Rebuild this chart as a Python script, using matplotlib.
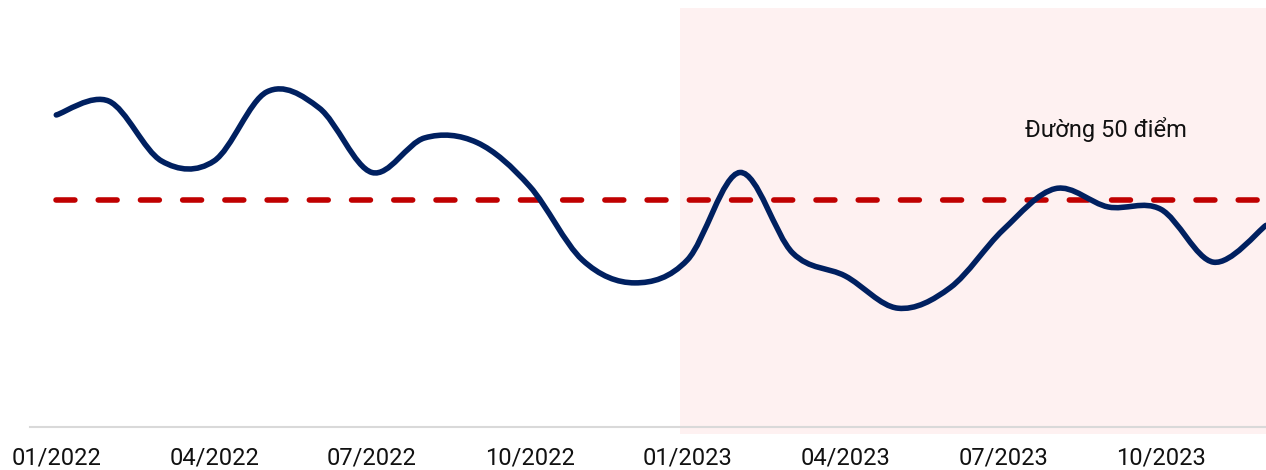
import matplotlib.pyplot as plt
from matplotlib.path import Path
from matplotlib.patches import PathPatch
import numpy as np

plt.rcParams['font.family'] = ['Roboto', 'DejaVu Sans']

# Monthly index, 01/2022 - 12/2023
months = ['01/2022', '02/2022', '03/2022', '04/2022', '05/2022', '06/2022',
          '07/2022', '08/2022', '09/2022', '10/2022', '11/2022', '12/2022',
          '01/2023', '02/2023', '03/2023', '04/2023', '05/2023', '06/2023',
          '07/2023', '08/2023', '09/2023', '10/2023', '11/2023', '12/2023']
values = [53.7, 54.3, 51.7, 51.7, 54.7, 54.0, 51.2, 52.7, 52.5, 50.6, 47.4, 46.4,
          47.4, 51.2, 47.7, 46.7, 45.3, 46.2, 48.7, 50.5, 49.7, 49.6, 47.3, 48.9]
threshold = 50
threshold_label = 'Đường 50 điểm'
tick_labels = months[::3]


def smooth_path(x, y):
    # Catmull-Rom segments converted to cubic Bezier curves
    px = np.concatenate([[x[0]], x, [x[-1]]])
    py = np.concatenate([[y[0]], y, [y[-1]]])
    verts = [(x[0], y[0])]
    codes = [Path.MOVETO]
    for i in range(1, len(px) - 2):
        c1 = (px[i] + (px[i + 1] - px[i - 1]) / 6, py[i] + (py[i + 1] - py[i - 1]) / 6)
        c2 = (px[i + 1] - (px[i + 2] - px[i]) / 6, py[i + 1] - (py[i + 2] - py[i]) / 6)
        verts += [c1, c2, (px[i + 1], py[i + 1])]
        codes += [Path.CURVE4] * 3
    return Path(verts, codes)


x = np.arange(len(values))

fig = plt.figure(figsize=(12.66, 4.70), dpi=100)
ax = fig.add_axes([30 / 1266, 36 / 470, 1236 / 1266, 426 / 470])
ax.set_xlim(-0.5, len(values) - 1)
ax.set_ylim(39.83, 58.35)

# 2023 highlighted period
ax.axvspan(11.86, len(values), color='#fef1f1', lw=0, zorder=0)

ax.plot([x[0], x[-1]], [threshold, threshold], color='#c00000', lw=4,
        dashes=(3.4, 4.2), dash_capstyle='round', zorder=2)

ax.add_patch(PathPatch(smooth_path(x, np.array(values)), facecolor='none',
                       edgecolor='#002060', lw=4, capstyle='round', zorder=3))

ax.text(18.42, 53.05, threshold_label, fontsize=17, color='#111111',
        ha='left', va='center')

for s in ['top', 'right', 'left']:
    ax.spines[s].set_visible(False)
ax.spines['bottom'].set_position(('data', 40.13))
ax.spines['bottom'].set_color('#d9d9d9')
ax.spines['bottom'].set_linewidth(1.5)
ax.set_yticks([])
ax.set_xticks(x[::3])
ax.set_xticklabels(tick_labels, fontsize=17, color='#111111')
ax.tick_params(axis='x', length=0, pad=14)

fig.savefig('out.png', dpi=100)
